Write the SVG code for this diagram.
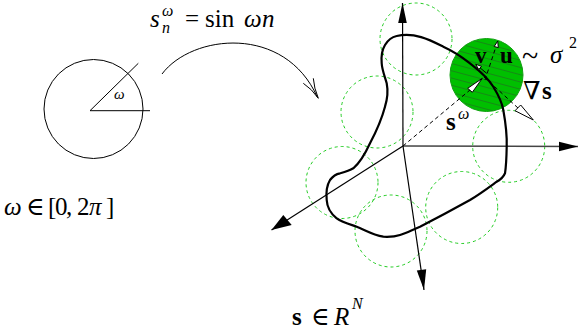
<svg xmlns="http://www.w3.org/2000/svg" width="579" height="332" viewBox="0 0 579 332">
<style>
text{font-family:"Liberation Serif","DejaVu Serif",serif;fill:#000}
.it{font-style:italic}
.bf{font-weight:bold}
.m{font-size:25px}
.s{font-size:16px}
.ax{fill:none;stroke:#000;stroke-width:1.2}
.gc{fill:none;stroke:#22cc22;stroke-width:1;stroke-dasharray:3,3}
.dl{fill:none;stroke:#000;stroke-width:1;stroke-dasharray:4,3}
.wa{fill:#fff;stroke:#000;stroke-width:1;stroke-linejoin:miter}
</style>
<defs>
<pattern id="hatch" patternUnits="userSpaceOnUse" width="7" height="7" patternTransform="rotate(15)">
<rect width="7" height="7" fill="#00bf00"/>
<line x1="0" y1="0.5" x2="7" y2="0.5" stroke="#168a16" stroke-width="1"/>
</pattern>
</defs>

<g id="angle-circle">
<circle cx="93.5" cy="109" r="49.5" fill="none" stroke="#000" stroke-width="1"/>
<path d="M150,110.7 L90,110.7 L138.3,63.3" fill="none" stroke="#000" stroke-width="1"/>
<text x="114" y="99" class="it" font-size="15">ω</text>
</g>

<g id="formula-map">
<text class="m it" x="150" y="27">s</text>
<text class="s it" x="162" y="16">ω</text>
<text class="s it" x="162" y="33">n</text>
<text class="m" x="185" y="27">=</text>
<text class="m" x="205" y="27">sin</text>
<text class="m it" x="244" y="27">ω</text>
<text class="m it" x="262" y="27">n</text>
</g>

<g id="formula-omega">
<text class="m it" x="4" y="215">ω</text>
<text class="m" x="26" y="215">∈</text>
<text class="m" x="48" y="215">[</text>
<text class="m" x="55" y="215">0</text>
<text class="m" x="66" y="215">,</text>
<text class="m" x="77" y="215">2</text>
<text class="m it" x="89" y="215">π</text>
<text class="m" x="106" y="215">]</text>
</g>

<g id="formula-space">
<text class="m bf" x="292" y="325">s</text>
<text class="m" x="311" y="325">∈</text>
<text class="m it" x="334" y="325">R</text>
<text class="s it" x="352" y="309">N</text>
</g>

<g id="arc-connector">
<path d="M162,74 C192,34 285,24 317.5,97.5" fill="none" stroke="#000" stroke-width="1"/>
<path d="M303.3,83.3 Q312,89 318.3,98.3 Q314,88 313.3,78.3" fill="none" stroke="#000" stroke-width="1"/>
</g>

<g id="noise-circles">
<circle class="gc" cx="416" cy="39" r="36"/>
<circle class="gc" cx="377" cy="112" r="36"/>
<circle class="gc" cx="342" cy="182.5" r="36"/>
<circle class="gc" cx="391" cy="231" r="36"/>
<circle class="gc" cx="461.7" cy="207.5" r="36"/>
<circle class="gc" cx="508.7" cy="146.3" r="36"/>
</g>

<g id="axes">
<line class="ax" x1="403" y1="146" x2="402.5" y2="3"/>
<line class="ax" x1="403" y1="146" x2="578" y2="146.5" style="stroke:#444;stroke-width:1.6"/>
<line class="ax" x1="403" y1="146" x2="424" y2="290"/>
<line class="ax" x1="403" y1="146" x2="271.5" y2="230"/>
<path d="M402.5,3 L398.2,23 L406.8,23 z" fill="#000"/>
<path d="M578,146.5 L559,141.8 L559,151.2 z" fill="#000"/>
<path d="M424,290 L416.8,270.5 L426.2,269.3 z" fill="#000"/>
<path d="M271.5,230 L283.3,215 L291.7,225 z" fill="#000"/>
</g>

<g id="noise-ball">
<circle cx="486.5" cy="75" r="36.5" fill="url(#hatch)" stroke="#10a010" stroke-width="1"/>
</g>

<g id="signal-curve">
<path d="M396.7,36 C415,32 430,40 443.3,46.7 C455,52 462,57 470,63.3 C480,71 488,78 493.3,86.7 C499,96 502,102 503.3,110 C506,125 507,138 506.7,146.7 C506.5,158 506,167 505,173.3 C503,178 500,180 496.7,181.7 C488,188 480,194 470,200 C452,210 437,218 420,226.7 C412,230 406,233 400,235 C394,237 389,237 383.3,236.7 C373,235 365,230 356.7,226.7 C349,224 342,222 336.7,218.3 C330,213 327,206 326.7,200 C326,193 327,185 330,180 C333,176 336,174 340,173.3 C345,172 349,171 353.3,168.3 C361,162 366,152 370,143.3 C377,130 382,118 385,106.7 C388,97 388,90 386.7,83.3 C385,77 382,70 381.7,63.3 C381,56 382,50 385,45 C388,40 392,37 396.7,36 z" fill="none" stroke="#000" stroke-width="2.2"/>
</g>

<g id="vectors">
<line class="dl" x1="403" y1="146" x2="470" y2="90"/>
<path class="wa" d="M482.3,78.3 L467.7,88.3 L472.3,92.3 z"/>
<line class="dl" x1="484" y1="77" x2="518" y2="108"/>
<path class="wa" d="M533.3,120 L515,110.7 L520.7,105 z"/>
<line class="dl" x1="485" y1="80" x2="496.5" y2="45"/>
<path class="wa" d="M497.7,41 L494.2,46.5 L498.3,47.6 z"/>
<line x1="486.7" y1="73.3" x2="479" y2="67" stroke="#000" stroke-width="1"/>
<path class="wa" d="M475.7,64.3 L481.5,66.3 L478.8,69.5 z"/>
</g>

<g id="labels">
<text class="bf" font-size="23" x="475" y="63">v</text>
<text class="bf" font-size="23" x="500" y="63">u</text>
<text font-size="30" x="522" y="66">~</text>
<text class="m it" x="550" y="63">σ</text>
<text class="s" x="569" y="48">2</text>
<text class="m" x="523" y="99">∇</text>
<text class="m bf" x="542" y="99">s</text>
<text class="m bf" x="446" y="130">s</text>
<text class="s it" x="458" y="119">ω</text>
</g>
</svg>
